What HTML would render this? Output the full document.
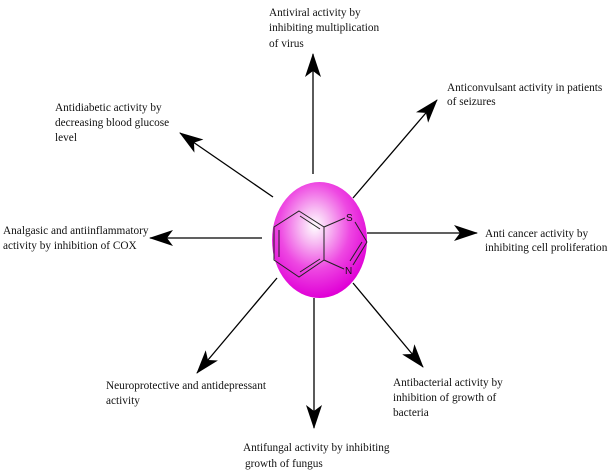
<!DOCTYPE html>
<html><head><meta charset="utf-8"><style>
html,body{margin:0;padding:0;background:#fff;}
svg{display:block;}
text{font-family:"Liberation Serif",serif;font-size:11.3px;fill:#111;}
</style></head><body>
<svg width="612" height="476" viewBox="0 0 612 476" xmlns="http://www.w3.org/2000/svg">
<defs>
<radialGradient id="g" cx="0.45" cy="0.38" r="0.62">
<stop offset="0" stop-color="#ffffff"/>
<stop offset="0.25" stop-color="#f7b8f2"/>
<stop offset="0.6" stop-color="#ee48e2"/>
<stop offset="1" stop-color="#e000d6"/>
</radialGradient>
<marker id="a" viewBox="0 0 24 16" refX="23" refY="8" markerWidth="24" markerHeight="16" markerUnits="userSpaceOnUse" orient="auto">
<path d="M0,0 L24,8 L0,16 L6,8 Z" fill="#000"/>
</marker>
</defs>
<g stroke="#000" stroke-width="1.3" fill="none" marker-end="url(#a)">
<line x1="313" y1="174" x2="313" y2="54"/>
<line x1="353" y1="198" x2="437" y2="100"/>
<line x1="367" y1="233" x2="477" y2="233"/>
<line x1="353" y1="283" x2="423" y2="367"/>
<line x1="314" y1="298" x2="314" y2="428"/>
<line x1="277" y1="278" x2="197" y2="373"/>
<line x1="262" y1="238" x2="150" y2="238"/>
<line x1="273" y1="197" x2="180" y2="133"/>
</g>
<ellipse cx="319.5" cy="240" rx="47.5" ry="58" fill="url(#g)"/>
<g stroke="#222" stroke-width="1" fill="none">
<polygon points="299,211 324,227 324,260 299,277 274,260 274,227"/>
<line x1="279" y1="230" x2="279" y2="257"/>
<line x1="300" y1="216" x2="320" y2="229"/>
<line x1="300" y1="272" x2="320" y2="259"/>
<line x1="324" y1="227" x2="345" y2="218"/>
<line x1="355" y1="222" x2="367" y2="242"/>
<line x1="367" y1="242" x2="353" y2="265"/>
<line x1="362" y1="242" x2="350" y2="261"/>
<line x1="324" y1="260" x2="344" y2="269"/>
</g>
<text x="346" y="221" style="font-family:'Liberation Sans',sans-serif;font-size:10px">S</text>
<text x="345" y="274" style="font-family:'Liberation Sans',sans-serif;font-size:10px">N</text>

<text x="269" y="16">Antiviral activity by</text>
<text x="269" y="31">inhibiting multiplication</text>
<text x="269" y="47">of virus</text>

<text x="447" y="91">Anticonvulsant activity in patients</text>
<text x="447" y="105">of seizures</text>

<text x="55" y="111">Antidiabetic activity by</text>
<text x="55" y="126">decreasing blood glucose</text>
<text x="55" y="141">level</text>

<text x="3" y="234">Analgasic and antiinflammatory</text>
<text x="3" y="249">activity by inhibition of COX</text>

<text x="485" y="237">Anti cancer activity by</text>
<text x="485" y="251">inhibiting cell proliferation</text>

<text x="106" y="389">Neuroprotective and antidepressant</text>
<text x="106" y="404">activity</text>

<text x="393" y="386">Antibacterial activity by</text>
<text x="393" y="401">inhibition of growth of</text>
<text x="393" y="416">bacteria</text>

<text x="243" y="451">Antifungal activity by inhibiting</text>
<text x="245" y="467">growth of fungus</text>
</svg>
</body></html>
